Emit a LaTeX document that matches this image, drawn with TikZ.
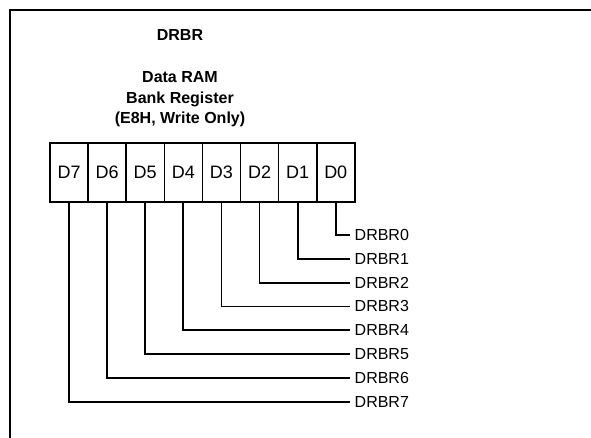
\documentclass[tikz,border=0pt]{standalone}
\usepackage{fontspec}
\setmainfont{Liberation Sans}
\usetikzlibrary{positioning}
\tikzset{
  cell/.style={draw,line width=1.6pt,minimum width=38.1pt,minimum height=59pt,
    inner sep=0pt,font=\fontsize{18}{21}\selectfont},
  lbl/.style={anchor=west,inner xsep=4.5pt,font=\fontsize{16}{19}\selectfont},
  wire/.style={line width=1.8pt}
}
\newcommand{\bitcell}[2]{%
 \node[cell] ({D#1}) at ({#2}) {D#1};%
}
\begin{document}
\begin{tikzpicture}[x=1pt,y=-1pt]
  \useasboundingbox (0,0) rectangle (591,438);
  % frame
  \draw[line width=2pt] (10,438) -- (10,10) -- (591,10);
  % titles
  \node[font=\fontsize{16}{19}\bfseries] (title) at (180,35) {DRBR};
  \node[font=\fontsize{16}{20.5}\bfseries,align=center] (desc) at (180,99.5)
    {Data RAM\\Bank Register\\(E8H, Write Only)};
  % register bits
  \foreach \b [count=\k from 0] in {7,...,0}
    \bitcell{\b}{{69.05+38.1*\k},172.5};
  % bit names
  \foreach \b in {0,...,7}
    \node[lbl] (DRBR\b) at (350,{235+23.8*\b}) {DRBR\b};
  \foreach \b in {0,...,7}
    \draw[wire] (D\b.south) |- (DRBR\b.west);
\end{tikzpicture}
\end{document}
